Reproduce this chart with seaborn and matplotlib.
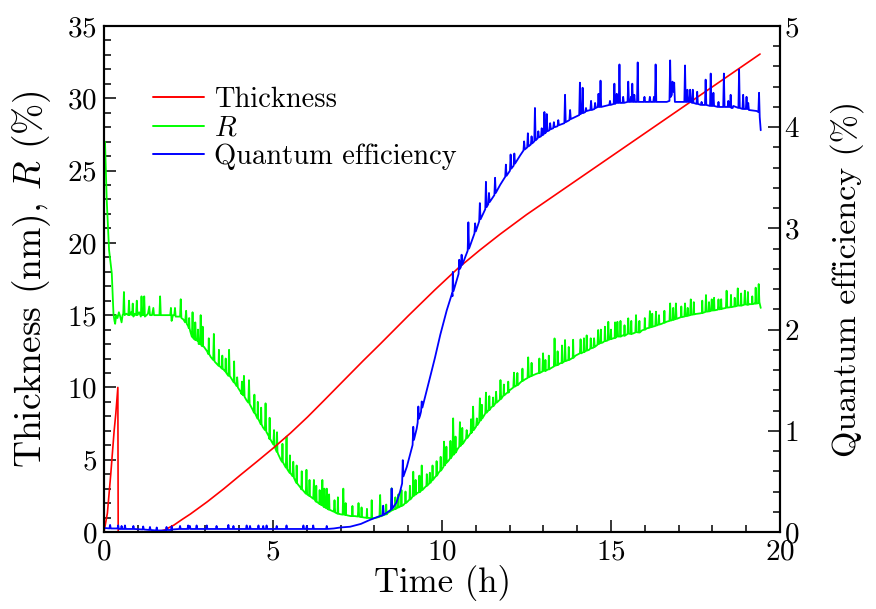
import matplotlib
matplotlib.use("Agg")
import matplotlib.pyplot as plt
import seaborn as sns
import pandas as pd
from matplotlib.ticker import MultipleLocator
from matplotlib.lines import Line2D

# ---------------- data ----------------
thick_t = [0.00, 0.10, 0.20, 0.30, 0.35, 0.41, 0.42, 1.58, 1.80, 2.07, 2.30, 2.56, 3.06, 3.55, 4.04,
           4.54, 5.03, 5.52, 6.02, 6.51, 7.10, 7.67, 8.17, 9.00, 9.79, 10.50, 11.12, 11.72, 12.50,
           19.41]
thick_v = [0.0, 1.3, 4.0, 7.0, 8.2, 10.0, 0.0, 0.0, 0.15, 0.48, 0.85, 1.25, 2.1, 3.0, 3.95,
           4.9, 5.85, 6.85, 7.95, 9.1, 10.5, 11.85, 13.0, 14.95, 16.75, 18.3, 19.5, 20.6, 21.95,
           33.06]

refl_t = [0.03, 0.06, 0.08, 0.12, 0.15, 0.20, 0.23, 0.26, 0.28, 0.31, 0.33, 0.36, 0.40, 0.44, 0.48,
          0.52, 0.55, 0.57, 0.59, 0.61, 0.66, 0.72, 0.74, 0.76, 0.80, 0.83, 0.85, 0.87, 0.91, 0.95,
          0.97, 0.99, 1.04, 1.09, 1.11, 1.13, 1.17, 1.19, 1.21, 1.26, 1.30, 1.34, 1.36, 1.42, 1.46,
          1.48, 1.55, 1.64, 1.66, 1.68, 1.80, 1.90, 1.96, 1.98, 2.00, 2.04, 2.08, 2.10, 2.12, 2.18,
          2.25, 2.27, 2.29, 2.35, 2.40, 2.43, 2.45, 2.50, 2.55, 2.60, 2.62, 2.64, 2.70, 2.75, 2.80,
          2.84, 2.86, 2.88, 2.96, 3.05, 3.16, 3.23, 3.25, 3.27, 3.35, 3.45, 3.55, 3.62, 3.68, 3.70,
          3.72, 3.80, 3.92, 3.94, 3.96, 4.04, 4.12, 4.14, 4.16, 4.22, 4.27, 4.29, 4.31, 4.40, 4.50,
          4.60, 4.70, 4.76, 4.78, 4.80, 4.88, 4.95, 5.01, 5.03, 5.05, 5.15, 5.23, 5.30, 5.38, 5.40,
          5.42, 5.52, 5.58, 5.60, 5.62, 5.72, 5.82, 5.90, 5.97, 5.99, 6.01, 6.11, 6.19, 6.21, 6.23,
          6.32, 6.41, 6.44, 6.46, 6.48, 6.57, 6.59, 6.61, 6.71, 6.80, 6.82, 6.84, 6.95, 7.06, 7.08,
          7.10, 7.20, 7.30, 7.42, 7.51, 7.53, 7.55, 7.70, 7.85, 7.97, 8.08, 8.15, 8.17, 8.19, 8.30,
          8.40, 8.49, 8.51, 8.53, 8.62, 8.72, 8.86, 8.98, 9.10, 9.13, 9.15, 9.17, 9.27, 9.38, 9.40,
          9.42, 9.50, 9.62, 9.64, 9.66, 9.78, 9.90, 10.04, 10.06, 10.08, 10.20, 10.31, 10.33, 10.35,
          10.45, 10.51, 10.53, 10.55, 10.63, 10.71, 10.73, 10.75, 10.82, 10.90, 10.92, 10.94, 11.01,
          11.03, 11.05, 11.10, 11.12, 11.14, 11.28, 11.30, 11.32, 11.45, 11.58, 11.60, 11.62, 11.71,
          11.73, 11.75, 11.91, 12.00, 12.11, 12.13, 12.15, 12.30, 12.45, 12.53, 12.55, 12.57, 12.70,
          12.80, 12.97, 12.99, 13.01, 13.10, 13.20, 13.31, 13.33, 13.35, 13.48, 13.62, 13.64, 13.66,
          13.80, 13.95, 14.08, 14.10, 14.12, 14.35, 14.48, 14.50, 14.52, 14.60, 14.62, 14.64, 14.75,
          14.90, 14.92, 14.94, 15.07, 15.17, 15.19, 15.21, 15.35, 15.49, 15.51, 15.53, 15.66, 15.72,
          15.74, 15.76, 15.92, 16.06, 16.13, 16.15, 16.17, 16.31, 16.33, 16.35, 16.50, 16.65, 16.73,
          16.75, 16.77, 16.90, 16.92, 16.94, 17.00, 17.17, 17.19, 17.21, 17.34, 17.36, 17.38, 17.50,
          17.63, 17.79, 17.81, 17.83, 17.96, 17.98, 18.00, 18.10, 18.16, 18.18, 18.20, 18.30, 18.40,
          18.42, 18.44, 18.62, 18.73, 18.75, 18.77, 18.94, 18.96, 18.98, 19.10, 19.25, 19.35, 19.37,
          19.39, 19.43]
refl_v = [27.0, 24.5, 23.0, 21.0, 19.5, 18.5, 17.9, 16.3, 15.1, 14.6, 14.4, 15.0, 14.8, 15.2, 14.9,
          14.5, 15.0, 15.1, 16.6, 15.0, 15.1, 15.0, 16.0, 15.0, 15.2, 15.0, 15.8, 14.9, 15.1, 15.0,
          16.0, 15.0, 15.2, 14.9, 16.3, 15.0, 15.0, 16.3, 14.9, 15.0, 15.1, 15.6, 15.0, 15.0, 15.5,
          15.0, 15.0, 15.0, 16.3, 15.0, 15.0, 15.0, 15.0, 15.5, 14.6, 15.0, 15.0, 15.5, 14.9, 14.9,
          14.9, 16.1, 14.8, 14.7, 14.5, 15.3, 14.4, 14.2, 13.9, 13.5, 15.2, 13.4, 13.3, 13.3, 13.0,
          13.0, 15.0, 12.9, 12.8, 12.5, 12.1, 11.9, 13.7, 11.8, 11.6, 11.4, 11.2, 11.0, 10.8, 12.6,
          10.8, 10.5, 10.1, 10.7, 10.0, 9.7, 9.45, 10.8, 9.35, 9.1, 8.95, 10.5, 8.85, 8.45, 8.05,
          7.65, 7.25, 7.05, 8.9, 6.95, 6.6, 6.3, 6.05, 7.05, 5.9, 5.4, 5.0, 4.8, 4.45, 6.6,
          4.35, 4.06, 3.85, 4.86, 3.75, 3.35, 3.05, 2.85, 2.65, 4.3, 2.6, 2.45, 2.3, 3.6, 2.25,
          2.05, 1.9, 1.85, 3.6, 1.8, 1.65, 3.0, 1.6, 1.5, 1.4, 2.2, 1.35, 1.25, 1.2, 3.0,
          1.2, 1.15, 1.1, 1.1, 1.07, 2.0, 1.06, 1.0, 0.97, 0.95, 1.0, 1.05, 2.56, 1.08, 1.2,
          1.33, 1.45, 3.02, 1.5, 1.6, 1.7, 1.87, 2.1, 2.35, 2.45, 4.17, 2.5, 2.7, 2.85, 4.6,
          2.9, 3.1, 3.35, 4.1, 3.4, 3.75, 4.1, 4.5, 6.25, 4.6, 4.95, 5.3, 7.86, 5.35,
          5.7, 5.9, 7.6, 5.95, 6.15, 6.45, 7.05, 6.5, 6.75, 7.0, 8.67, 7.05, 7.3,
          7.86, 7.4, 7.6, 9.25, 7.7, 8.2, 9.64, 8.25, 8.6, 8.9, 9.7, 8.95, 9.15,
          10.51, 9.2, 9.6, 9.8, 10.0, 11.02, 10.05, 10.3, 10.55, 10.65, 12.08, 10.7, 10.85,
          10.95, 11.1, 12.36, 11.15, 11.2, 11.3, 11.45, 13.39, 11.5, 11.65, 11.8, 13.28, 11.82,
          11.95, 12.2, 12.36, 13.33, 12.36, 12.6, 12.75, 13.4, 12.8, 12.95, 13.97, 13.0, 13.1,
          13.25, 14.54, 13.3, 13.4, 13.5, 14.54, 13.52, 13.6, 13.7, 14.78, 13.72, 13.74, 13.8,
          15.0, 13.82, 13.95, 14.09, 14.12, 15.28, 14.15, 14.25, 15.24, 14.28, 14.4, 14.55, 14.6,
          15.81, 14.62, 14.72, 15.81, 14.74, 14.8, 14.9, 15.81, 14.92, 15.0, 16.09, 15.02, 15.08,
          15.12, 15.22, 16.39, 15.24, 15.3, 16.09, 15.32, 15.35, 15.38, 16.09, 15.4, 15.45, 15.5,
          16.69, 15.52, 15.58, 15.64, 16.85, 15.66, 15.72, 16.69, 15.74, 15.76, 15.8, 15.82, 17.15,
          15.9, 15.5]

# extra R spikes: (base before, peak, base after) written out point by point
refl_spike_t = [2.508, 2.52, 2.532, 2.688, 2.70, 2.712, 2.768, 2.78, 2.792, 2.908, 2.92, 2.932,
                3.088, 3.10, 3.112, 3.388, 3.40, 3.412, 3.488, 3.50, 3.512, 3.588, 3.60, 3.612,
                3.838, 3.85, 3.862, 4.068, 4.08, 4.092, 4.438, 4.45, 4.462, 4.538, 4.55, 4.562,
                4.638, 4.65, 4.662, 4.888, 4.90, 4.912, 5.108, 5.12, 5.132, 5.268, 5.28, 5.292,
                5.488, 5.50, 5.512, 5.688, 5.70, 5.712, 5.838, 5.85, 5.862, 6.068, 6.08, 6.092,
                6.268, 6.28, 6.292, 6.368, 6.38, 6.392, 6.508, 6.52, 6.532, 6.648, 6.66, 6.672,
                6.908, 6.92, 6.932, 7.138, 7.15, 7.162, 7.338, 7.35, 7.362, 7.608, 7.62, 7.632,
                7.768, 7.78, 7.792, 7.908, 7.92, 7.932,
                8.338, 8.35, 8.362, 8.608, 8.62, 8.632, 8.698, 8.71, 8.722, 8.788, 8.80, 8.812,
                8.908, 8.92, 8.932, 9.038, 9.05, 9.062, 9.208, 9.22, 9.232, 9.318, 9.33, 9.342,
                9.538, 9.55, 9.562, 9.708, 9.72, 9.732, 9.828, 9.84, 9.852, 9.948, 9.96, 9.972,
                10.118, 10.13, 10.142, 10.238, 10.25, 10.262, 10.388, 10.40, 10.412, 10.588, 10.60, 10.612,
                10.848, 10.86, 10.872, 11.168, 11.18, 11.192, 11.388, 11.40, 11.412, 11.498, 11.51, 11.522,
                11.818, 11.83, 11.842, 11.948, 11.96, 11.972, 12.218, 12.23, 12.242, 12.368, 12.38, 12.392,
                12.638, 12.65, 12.662, 12.868, 12.88, 12.892, 13.048, 13.06, 13.072, 13.148, 13.16, 13.172,
                13.408, 13.42, 13.432, 13.538, 13.55, 13.562, 13.738, 13.75, 13.762, 13.868, 13.88, 13.892,
                14.188, 14.20, 14.212, 14.268, 14.28, 14.292, 14.388, 14.40, 14.412, 14.688, 14.70, 14.712,
                14.808, 14.82, 14.832, 14.988, 15.00, 15.012, 15.108, 15.12, 15.132, 15.268, 15.28, 15.292,
                15.388, 15.40, 15.412, 15.588, 15.60, 15.612, 15.828, 15.84, 15.852, 15.988, 16.00, 16.012,
                16.208, 16.22, 16.232, 16.408, 16.42, 16.432, 16.568, 16.58, 16.592, 16.828, 16.84, 16.852,
                17.068, 17.08, 17.092, 17.258, 17.27, 17.282, 17.438, 17.45, 17.462, 17.688, 17.70, 17.712,
                17.888, 17.90, 17.912, 18.038, 18.05, 18.062, 18.248, 18.26, 18.272, 18.538, 18.55, 18.562,
                18.648, 18.66, 18.672, 18.838, 18.85, 18.862, 19.038, 19.05, 19.062, 19.168, 19.18, 19.192,
                19.268, 19.28, 19.292]
refl_spike_v = [14.1, 14.8, 14.1, 13.3, 14.5, 13.3, 13.2, 14.0, 13.2, 12.85, 14.2, 12.85,
                12.3, 13.4, 12.3, 11.5, 12.6, 11.5, 11.3, 12.2, 11.3, 11.1, 12.0, 11.1,
                10.35, 11.8, 10.35, 9.55, 10.4, 9.55, 8.25, 9.5, 8.25, 7.85, 9.0, 7.85,
                7.45, 8.6, 7.45, 6.45, 7.9, 6.45, 5.55, 6.9, 5.55, 4.85, 6.1, 4.85,
                4.1, 5.3, 4.1, 3.4, 4.6, 3.4, 2.95, 4.2, 2.95, 2.5, 3.6, 2.5,
                2.1, 3.2, 2.1, 1.95, 2.9, 1.95, 1.72, 3.0, 1.72, 1.55, 2.6, 1.55,
                1.27, 2.4, 1.27, 1.18, 2.0, 1.18, 1.1, 1.8, 1.1, 1.03, 1.7, 1.03,
                0.98, 1.6, 0.98, 0.95, 2.2, 0.95,
                1.22, 1.9, 1.22, 1.6, 2.4, 1.6, 1.7, 2.6, 1.7, 1.8, 2.9, 1.8,
                2.0, 2.8, 2.0, 2.25, 3.2, 2.25, 2.6, 3.6, 2.6, 2.75, 3.9, 2.75,
                3.2, 4.0, 3.2, 3.6, 4.6, 3.6, 3.9, 4.9, 3.9, 4.25, 5.2, 4.25,
                4.8, 5.9, 4.8, 5.1, 6.3, 5.1, 5.5, 6.6, 5.5, 6.1, 7.2, 6.1,
                6.85, 7.8, 6.85, 7.85, 8.8, 7.85, 8.45, 9.4, 8.45, 8.7, 9.3, 8.7,
                9.45, 10.2, 9.45, 9.65, 10.4, 9.65, 10.15, 11.0, 10.15, 10.45, 11.3, 10.45,
                10.8, 11.7, 10.8, 11.0, 12.0, 11.0, 11.15, 11.9, 11.15, 11.25, 12.2, 11.25,
                11.55, 12.5, 11.55, 11.7, 12.9, 11.7, 11.9, 12.8, 11.9, 12.05, 13.3, 12.05,
                12.45, 13.4, 12.45, 12.55, 13.6, 12.55, 12.7, 13.4, 12.7, 13.08, 14.0, 13.08,
                13.2, 14.2, 13.2, 13.35, 14.0, 13.35, 13.43, 14.5, 13.43, 13.52, 14.6, 13.52,
                13.58, 14.3, 13.58, 13.7, 14.6, 13.7, 13.8, 14.6, 13.8, 14.0, 14.8, 14.0,
                14.2, 15.1, 14.2, 14.35, 15.0, 14.35, 14.48, 15.3, 14.48, 14.68, 15.5, 14.68,
                14.86, 15.6, 14.86, 14.96, 15.5, 14.96, 15.05, 15.9, 15.05, 15.15, 16.0, 15.15,
                15.26, 15.9, 15.26, 15.33, 16.2, 15.33, 15.42, 16.1, 15.42, 15.55, 16.4, 15.55,
                15.6, 16.2, 15.6, 15.66, 16.5, 15.66, 15.72, 16.6, 15.72, 15.76, 16.3, 15.76,
                15.8, 16.9, 15.8]

qe_t = [0.00, 0.16, 0.18, 0.20, 0.40, 0.42, 0.44, 0.50, 0.52, 0.54, 0.60, 0.62, 0.64, 0.85, 0.87,
        0.89, 1.14, 1.16, 1.18, 1.34, 1.36, 1.38, 1.54, 1.56, 1.58, 1.83, 1.85, 1.87, 1.98, 2.00,
        2.02, 2.23, 2.25, 2.27, 2.47, 2.49, 2.51, 2.54, 2.56, 2.72, 2.74, 2.76, 3.02, 3.04, 3.06,
        3.31, 3.33, 3.35, 3.66, 3.68, 3.70, 3.81, 3.83, 3.85, 4.20, 4.22, 4.24, 4.30, 4.32, 4.34,
        4.55, 4.57, 4.59, 4.69, 4.71, 4.73, 4.79, 4.81, 4.83, 5.09, 5.11, 5.13, 5.38, 5.40, 5.42,
        5.88, 5.90, 5.92, 5.98, 6.00, 6.02, 6.17, 6.19, 6.21, 6.57, 6.59, 6.61, 6.80, 7.00, 7.28,
        7.60, 7.87, 8.10, 8.24, 8.26, 8.28, 8.49, 8.51, 8.53, 8.65, 8.76, 8.82, 8.84, 8.86, 8.96,
        9.06, 9.13, 9.15, 9.17, 9.25, 9.28, 9.30, 9.32, 9.35, 9.38, 9.40, 9.42, 9.55, 9.67, 9.79,
        9.95, 10.14, 10.29, 10.30, 10.31, 10.32, 10.34, 10.49, 10.51, 10.53, 10.56, 10.58, 10.60,
        10.76, 10.78, 10.80, 10.96, 10.98, 11.00, 11.10, 11.12, 11.14, 11.28, 11.30, 11.32, 11.37,
        11.39, 11.41, 11.55, 11.57, 11.59, 11.72, 11.87, 11.89, 11.91, 12.01, 12.03, 12.05, 12.12,
        12.14, 12.16, 12.31, 12.41, 12.43, 12.45, 12.52, 12.54, 12.56, 12.63, 12.65, 12.67, 12.73,
        12.75, 12.77, 12.83, 12.85, 12.87, 12.93, 12.95, 12.97, 13.01, 13.03, 13.05, 13.08, 13.10,
        13.12, 13.18, 13.20, 13.22, 13.29, 13.31, 13.33, 13.42, 13.44, 13.46, 13.62, 13.64, 13.66,
        13.77, 13.79, 13.81, 14.06, 14.08, 14.10, 14.14, 14.16, 14.18, 14.24, 14.26, 14.28, 14.39,
        14.41, 14.43, 14.51, 14.53, 14.55, 14.61, 14.63, 14.65, 14.67, 14.69, 14.71, 14.95, 14.97,
        14.99, 15.08, 15.10, 15.12, 15.15, 15.17, 15.19, 15.23, 15.25, 15.27, 15.34, 15.36, 15.38,
        15.49, 15.51, 15.53, 15.57, 15.59, 15.61, 15.63, 15.65, 15.67, 15.69, 15.71, 15.77, 15.79,
        15.81, 15.97, 15.99, 16.01, 16.13, 16.15, 16.17, 16.25, 16.27, 16.29, 16.30, 16.32, 16.34,
        16.65, 16.73, 16.75, 16.77, 16.80, 16.82, 16.85, 16.87, 16.89, 17.17, 17.19, 17.21, 17.24,
        17.26, 17.28, 17.32, 17.34, 17.36, 17.40, 17.42, 17.44, 17.53, 17.55, 17.57, 17.66, 17.68,
        17.70, 17.78, 17.80, 17.82, 17.93, 17.95, 17.97, 18.01, 18.03, 18.05, 18.16, 18.18, 18.20,
        18.32, 18.34, 18.36, 18.45, 18.47, 18.49, 18.52, 18.54, 18.56, 18.60, 18.62, 18.77, 18.79,
        18.81, 18.89, 18.91, 18.93, 18.99, 19.01, 19.03, 19.04, 19.06, 19.08, 19.31, 19.36, 19.38,
        19.40, 19.43]
qe_v = [0.04, 0.035, 0.07, 0.035, 0.035, 0.065, 0.03, 0.03, 0.06, 0.03, 0.03, 0.065, 0.03, 0.03, 0.06,
        0.03, 0.025, 0.055, 0.025, 0.02, 0.05, 0.02, 0.015, 0.045, 0.015, 0.015, 0.05, 0.02, 0.02, 0.055,
        0.025, 0.03, 0.06, 0.03, 0.03, 0.065, 0.03, 0.06, 0.03, 0.03, 0.065, 0.03, 0.03, 0.065, 0.03,
        0.03, 0.06, 0.03, 0.03, 0.07, 0.03, 0.03, 0.06, 0.03, 0.03, 0.065, 0.03, 0.03, 0.06, 0.03,
        0.03, 0.065, 0.03, 0.03, 0.06, 0.03, 0.03, 0.065, 0.03, 0.03, 0.06, 0.03, 0.03, 0.065, 0.03,
        0.03, 0.065, 0.03, 0.03, 0.06, 0.03, 0.03, 0.065, 0.03, 0.03, 0.06, 0.03, 0.035, 0.045, 0.052,
        0.08, 0.12, 0.15, 0.165, 0.26, 0.17, 0.22, 0.43, 0.23, 0.29, 0.40, 0.48, 0.71, 0.55, 0.645,
        0.77, 0.86, 1.04, 0.91, 1.02, 1.08, 1.24, 1.12, 1.15, 1.19, 1.29, 1.23, 1.40, 1.56, 1.72,
        1.95, 2.19, 2.35, 2.36, 2.33, 2.57, 2.38, 2.55, 2.69, 2.60, 2.62, 2.74, 2.64,
        2.78, 3.06, 2.80, 2.95, 3.05, 2.97, 3.07, 3.25, 3.09, 3.19, 3.46, 3.21, 3.24,
        3.35, 3.26, 3.33, 3.50, 3.35, 3.43, 3.51, 3.63, 3.52, 3.57, 3.73, 3.59, 3.62,
        3.74, 3.64, 3.72, 3.77, 3.86, 3.78, 3.80, 3.94, 3.81, 3.83, 3.91, 3.84, 3.86,
        4.19, 3.87, 3.89, 3.96, 3.90, 3.91, 3.99, 3.92, 3.93, 4.15, 3.94, 3.95, 4.13,
        3.96, 3.97, 4.04, 3.98, 3.99, 4.05, 4.00, 4.01, 4.07, 4.02, 4.04, 4.32, 4.05,
        4.07, 4.17, 4.08, 4.12, 4.44, 4.13, 4.14, 4.39, 4.14, 4.15, 4.19, 4.16, 4.17,
        4.26, 4.17, 4.18, 4.24, 4.19, 4.20, 4.33, 4.20, 4.20, 4.46, 4.20, 4.22, 4.26,
        4.22, 4.23, 4.43, 4.23, 4.24, 4.33, 4.24, 4.24, 4.62, 4.24, 4.24, 4.30, 4.24,
        4.25, 4.45, 4.25, 4.25, 4.30, 4.25, 4.43, 4.25, 4.25, 4.32, 4.25, 4.25, 4.64,
        4.25, 4.25, 4.30, 4.25, 4.25, 4.30, 4.25, 4.25, 4.30, 4.25, 4.25, 4.62, 4.25,
        4.25, 4.26, 4.66, 4.30, 4.32, 4.45, 4.35, 4.44, 4.25, 4.25, 4.61, 4.25, 4.25,
        4.37, 4.25, 4.25, 4.37, 4.25, 4.24, 4.37, 4.24, 4.23, 4.35, 4.23, 4.22, 4.25,
        4.22, 4.22, 4.47, 4.22, 4.21, 4.53, 4.21, 4.21, 4.34, 4.21, 4.20, 4.25, 4.20,
        4.20, 4.53, 4.20, 4.20, 4.26, 4.20, 4.20, 4.32, 4.19, 4.19, 4.21, 4.19, 4.57,
        4.19, 4.18, 4.32, 4.18, 4.18, 4.30, 4.18, 4.18, 4.24, 4.17, 4.16, 4.15, 4.34,
        4.10, 3.97]

labels = ["Thickness", "$R$", "Quantum efficiency"]
colors = ["#ff0000", "#00ff00", "#0000ff"]

# ---------------- style ----------------
sns.set_theme(style="white")
plt.rcParams.update({
    "font.family": ["cmr10", "DejaVu Serif"],
    "mathtext.fontset": "cm",
    "axes.formatter.use_mathtext": True,
    "axes.linewidth": 1.5,
    "axes.edgecolor": "black",
    "xtick.direction": "in",
    "ytick.direction": "in",
    "xtick.color": "black",
    "ytick.color": "black",
    "text.color": "black",
    "axes.labelcolor": "black",
})

fig = plt.figure(figsize=(8.76, 6.09), dpi=100)
ax = fig.add_axes([104 / 876, 1 - 532 / 609, 676 / 876, 506 / 609])
ax2 = ax.twinx()

df_th = pd.DataFrame({"t": thick_t, "v": thick_v})
df_r = pd.DataFrame({"t": refl_t + refl_spike_t, "v": refl_v + refl_spike_v})
df_q = pd.DataFrame({"t": qe_t, "v": qe_v})

lw = 1.3
sns.lineplot(data=df_r, x="t", y="v", ax=ax, color=colors[1], lw=lw, estimator=None, sort=True)
sns.lineplot(data=df_th, x="t", y="v", ax=ax, color=colors[0], lw=1.2, estimator=None, sort=False)
sns.lineplot(data=df_q, x="t", y="v", ax=ax2, color=colors[2], lw=lw, estimator=None, sort=False)

ax.set_xlim(0, 20)
ax.set_ylim(0, 35)
ax2.set_ylim(0, 5)

ax.xaxis.set_major_locator(MultipleLocator(5))
ax.xaxis.set_minor_locator(MultipleLocator(1))
ax.yaxis.set_major_locator(MultipleLocator(5))
ax.yaxis.set_minor_locator(MultipleLocator(1))
ax2.yaxis.set_major_locator(MultipleLocator(1))
ax2.yaxis.set_minor_locator(MultipleLocator(0.2))

ax.tick_params(axis="both", which="major", length=8.5, width=1.1, labelsize=21, pad=5,
               bottom=True, top=False, left=True, right=False)
ax.tick_params(axis="both", which="minor", length=5, width=1.1,
               bottom=True, top=False, left=True, right=False)
ax2.tick_params(axis="y", which="major", length=8.5, width=1.1, labelsize=21, pad=3)
ax2.tick_params(axis="y", which="minor", length=5, width=1.1)

ax.set_xlabel("Time (h)", fontsize=25, labelpad=0)
ax.set_ylabel("Thickness (nm), $R$ (%)", fontsize=27, labelpad=10)
ax2.set_ylabel("Quantum efficiency (%)", fontsize=24.5, labelpad=22)

handles = [Line2D([], [], color=c, lw=1.4) for c in colors]
ax.legend(handles, labels, loc="upper left", bbox_to_anchor=(0.072, 0.880), frameon=False,
          fontsize=20.5, handlelength=1.82, handletextpad=0.35, labelspacing=0.08,
          borderpad=0, borderaxespad=0)

fig.savefig("out.png", dpi=100)
